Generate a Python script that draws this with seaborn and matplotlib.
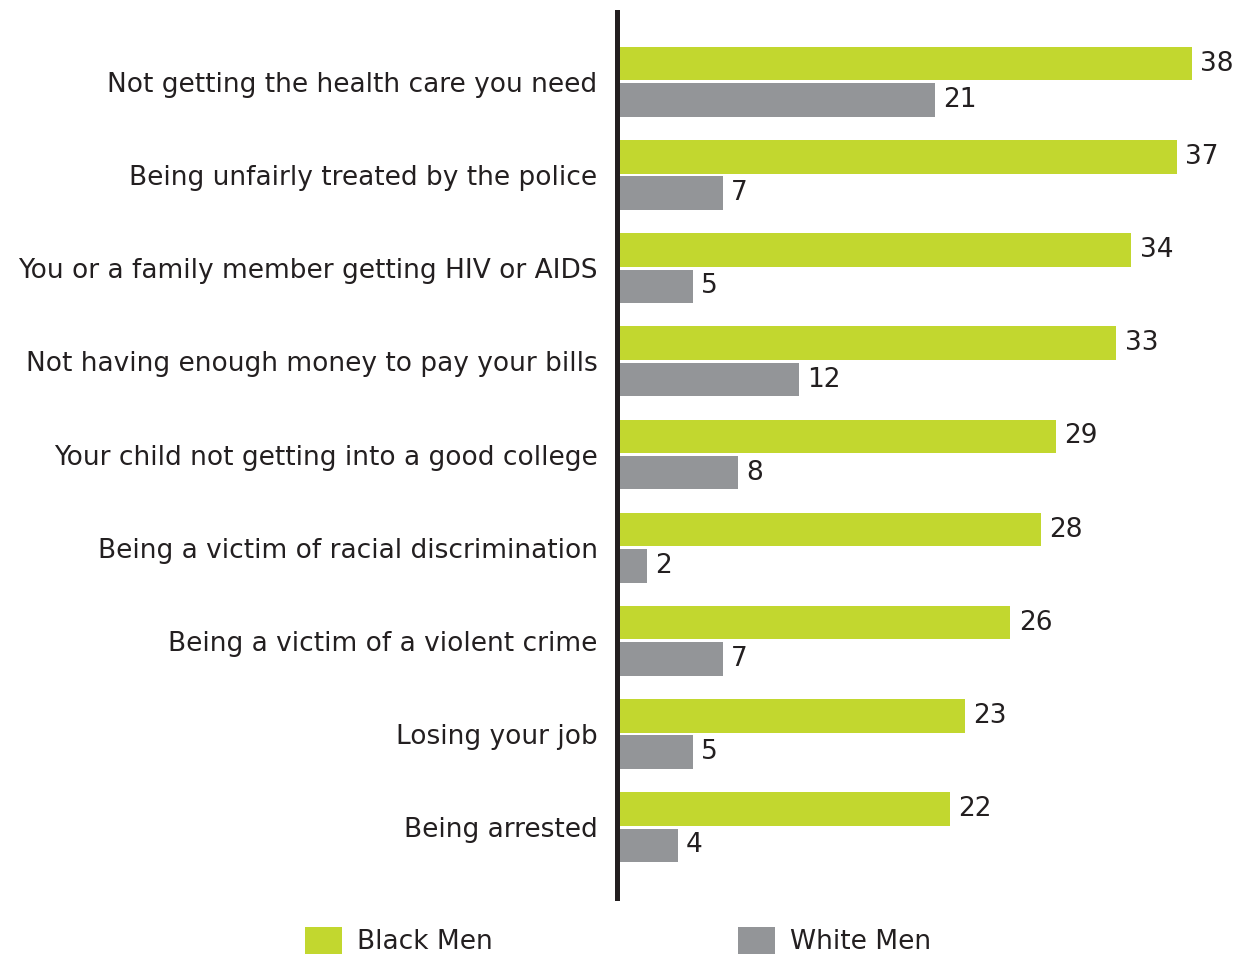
import matplotlib
matplotlib.use("Agg")
import matplotlib.pyplot as plt
from matplotlib.patches import Patch
import seaborn as sns
import pandas as pd

categories = [
    "Not getting the health care you need",
    "Being unfairly treated by the police",
    "You or a family member getting HIV or AIDS",
    "Not having enough money to pay your bills",
    "Your child not getting into a good college",
    "Being a victim of racial discrimination",
    "Being a victim of a violent crime",
    "Losing your job",
    "Being arrested",
]
black_men = [38, 37, 34, 33, 29, 28, 26, 23, 22]
white_men = [21, 7, 5, 12, 8, 2, 7, 5, 4]
series_names = ["Black Men", "White Men"]

GREEN = "#C2D72F"
GRAY = "#939598"
TEXT = "#231F20"
FS = 19

df = pd.DataFrame({
    "category": categories * 2,
    "value": black_men + white_men,
    "group": [series_names[0]] * len(categories) + [series_names[1]] * len(categories),
})

sns.set_theme(style="white")
plt.rcParams["font.family"] = ["DejaVu Sans"]

fig = plt.figure(figsize=(12.36, 9.57), dpi=100)
W, H = 1236, 957
ax = fig.add_axes([617 / W, 1 - 898 / H, (W - 617) / W, (898 - 12) / H])

sns.barplot(
    data=df, y="category", x="value", hue="group", order=categories,
    hue_order=series_names, palette=[GREEN, GRAY], orient="h",
    width=0.78, gap=0.08, saturation=1, linewidth=0, legend=False, ax=ax,
)

px_per_unit = 15.13
ax.set_xlim(0, (W - 617) / px_per_unit)
ax.set_ylim(8.76, -0.75)

for container in ax.containers:
    ax.bar_label(container, fmt="%d", padding=6, fontsize=FS, color=TEXT)

ax.set_xlabel("")
ax.set_ylabel("")
ax.set_xticks([])
ax.tick_params(axis="y", length=0, pad=14, labelsize=FS, labelcolor=TEXT)
for side in ["top", "right", "bottom"]:
    ax.spines[side].set_visible(False)
ax.spines["left"].set_color("#231F20")
ax.spines["left"].set_linewidth(3.6)
ax.spines["left"].set_zorder(5)

handles = [Patch(facecolor=GREEN, edgecolor="none"), Patch(facecolor=GRAY, edgecolor="none")]
fig.legend(
    handles, series_names, loc="center left", bbox_to_anchor=(305 / W, 1 - 941 / H),
    ncol=2, frameon=False, fontsize=FS, handlelength=1.4, handleheight=1.25,
    handletextpad=0.57, columnspacing=9.3, borderpad=0, borderaxespad=0,
    labelcolor=TEXT,
)

fig.savefig("out.png", dpi=100, facecolor="white")
